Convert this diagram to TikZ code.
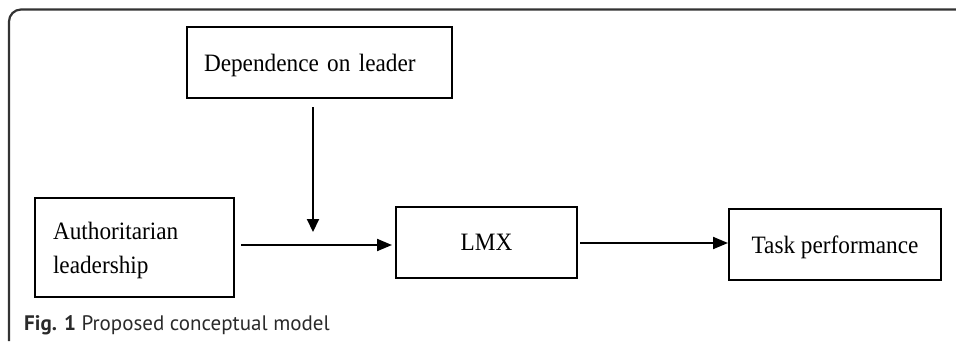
\documentclass[tikz,border=0pt]{standalone}
\usepackage{fontspec}
\setmainfont{Liberation Serif}
\newfontfamily\boxfont[FakeStretch=0.93]{Liberation Serif}
\newfontfamily\capfont{PT Sans}
\usetikzlibrary{arrows.meta}
\definecolor{framegray}{HTML}{333333}
\definecolor{capgray}{HTML}{2A2A2A}
\begin{document}
\begin{tikzpicture}[x=1pt,y=-1pt,
  box/.style={draw=black, line width=2pt, inner ysep=0pt, font=\boxfont\fontsize{25}{33.4}\selectfont},
  arr/.style={line width=2pt, -{Triangle[length=15pt,width=12pt]}},
  varr/.style={line width=2pt, -{Triangle[length=13pt,width=12pt]}}]
\useasboundingbox (0,0) rectangle (956,341);
% frame
\draw[framegray, line width=2.2pt, rounded corners=12pt] (9,341) -- (9,9.5) -- (956,9.5);
% boxes
\node[box, minimum width=265pt, minimum height=71pt, text width=231pt, inner xsep=17pt, align=left, text height=18.4pt, text depth=0pt] (dep) at (319.5,62.5) {Dependence on leader};
\node[box, minimum width=199pt, minimum height=99pt, text width=163pt, inner xsep=18pt, align=left, text height=17pt, text depth=32.6pt] (auth) at (134.5,247.5) {Authoritarian\\leadership};
\node[box, minimum width=181pt, minimum height=71pt, inner xsep=0pt] (lmx) at (486.5,242.5) {LMX};
\node[box, minimum width=212pt, minimum height=71pt, inner xsep=0pt, text depth=0pt] (task) at (835,244.5) {Task performance};
\coordinate (m) at (313,245);
\coordinate (l2) at ([yshift=-0.5pt]lmx.east);
% connectors
\draw[arr, shorten <=6pt, shorten >=3pt] ([yshift=2.5pt]auth.east) -- ([yshift=-2.5pt]lmx.west);
\draw[varr, shorten <=8pt, shorten >=13pt] (dep.south -| m) -- (m);
\draw[arr, shorten <=2pt] (l2) -- (task.west |- l2);
% caption
\node[anchor=base west, inner sep=0pt, text=capgray, font=\capfont\fontsize{21}{24}\selectfont] (cap) at (24,330) {\textbf{Fig. 1} Proposed conceptual model};
\end{tikzpicture}
\end{document}
